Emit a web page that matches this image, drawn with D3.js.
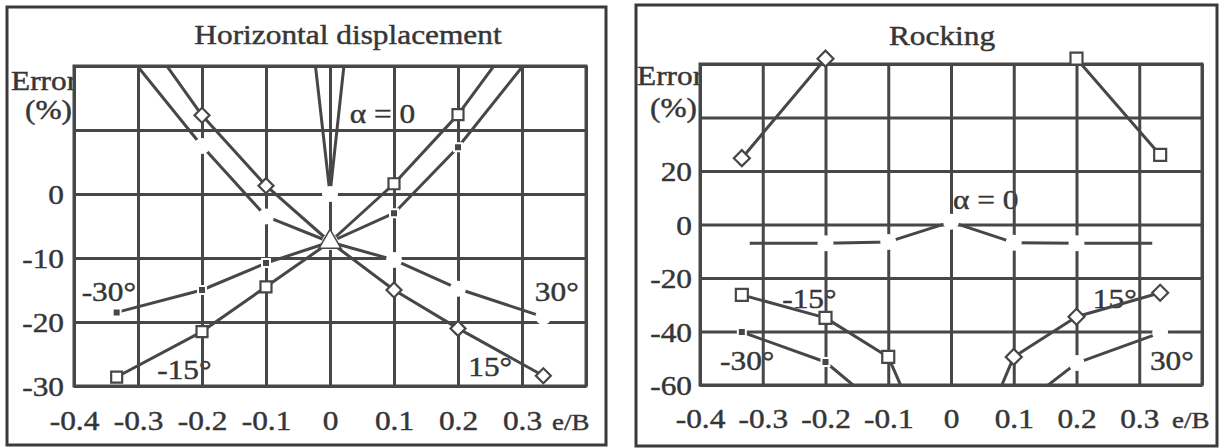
<!DOCTYPE html>
<html>
<head>
<meta charset="utf-8">
<script src="https://cdn.jsdelivr.net/npm/d3@7"></script>
<style>
  html, body { margin: 0; padding: 0; background: #fff; }
  svg { display: block; }
  text {
    font-family: "Liberation Serif", "Times New Roman", Times, serif;
    fill: #363636; stroke: #363636; stroke-width: 0.45px;
  }
</style>
</head>
<body>
<svg id="chart" width="1221" height="448"></svg>
<script>
// ---- data ----------------------------------------------------------------
// eccentricity ratios e/B where the errors were evaluated
const eB = [-1/3, -0.2, -0.1, 0, 0.1, 0.2, 1/3];
const xTicks = [-0.4, -0.3, -0.2, -0.1, 0, 0.1, 0.2, 0.3];

// Horizontal displacement error (%) for each load inclination alpha
const hdMinus30 = [-18.5, -15, -10.8, -7.5, -3, 7.3, 24];
const hdMinus15 = [-28.6, -21.5, -14.5, -7.5, 1.6, 12.4, 30.5];
const hdPlus15  = [31, 12.3, 1.3, -7.5, -15, -21, -28.4];
const hdPlus30  = [24, 7.5, -3.5, -7.5, -10.3, -14.8, -19.2];
const hdAlpha0X = [-0.1, 0, 0.1];
const hdAlpha0  = [88, 0, 92];
const hdCentre  = -7.5;
const hdYTicks  = [0, -10, -20, -30];

// Rocking error (%); null marks a break in the curve
const rkMinus30 = [-40.2, -51.4, -71, null, null, null, null];
const rkMinus15 = [-26.3, -34.9, -49.5, -103, null, 62, 26];
const rkPlus15  = [24.8, 62, null, -105, -49.5, -34.5, -25.5];
const rkPlus30  = [null, null, null, null, -70, -51.8, -40.5];
const rkAlpha0  = [-7, -7, -6.5, 1, -6.8, -7, -7];
const rkYTicks  = [20, 0, -20, -40, -60];

// ---- styling ---------------------------------------------------------------
const INK = "#474747";
const SX = 1.12;            // horizontal stretch of the serif lettering
const FS = 28;              // lettering size

const svg = d3.select("#chart");

function label(g, x, y, str, anchor = "start", size = FS) {
  return g.append("text")
    .attr("transform", `translate(${x},${y}) scale(${SX},1)`)
    .attr("text-anchor", anchor)
    .style("font-size", size + "px")
    .text(str);
}

const fmtX = d => d === 0 ? "0" : d.toFixed(1);
const pairs = (xs, ys) => xs.map((x, i) => ({ x, y: ys[i] }));

function drawPanel(cfg) {
  const g = svg.append("g");
  const [fx0, fy0, fx1, fy1] = cfg.frame;
  const [px0, py0, px1, py1] = cfg.plot;

  const x = d3.scaleLinear().domain([-0.4, 0.4]).range([px0, px1]);
  const y = d3.scaleLinear().domain(cfg.yDomain).range([py1, py0]);

  // outer frame
  g.append("rect")
    .attr("x", fx0).attr("y", fy0)
    .attr("width", fx1 - fx0).attr("height", fy1 - fy0)
    .attr("fill", "#fff").attr("stroke", "#3a3a3a").attr("stroke-width", 3);

  label(g, cfg.titleX, cfg.titleY, cfg.title, "middle", 28);
  label(g, cfg.errX, cfg.errY, "Error");
  label(g, cfg.pctX, cfg.pctY, "(%)", "end");

  // plot background hides the tail of "Error"
  g.append("rect")
    .attr("x", px0).attr("y", py0)
    .attr("width", px1 - px0).attr("height", py1 - py0)
    .attr("fill", "#fff");

  // curve labels
  cfg.labels.forEach(l => label(g, x(l.x), y(l.y), l.text));

  // grid
  const grid = g.append("g").attr("class", "grid");
  grid.append("g")
    .attr("transform", `translate(0,${py1})`)
    .call(d3.axisBottom(x).tickValues(xTicks.concat([0.4])).tickSize(-(py1 - py0)).tickSizeOuter(0).tickFormat(""));
  grid.append("g")
    .attr("transform", `translate(${px0},0)`)
    .call(d3.axisLeft(y).tickValues(d3.range(cfg.yDomain[0], cfg.yDomain[1] + 1e-9, cfg.yStep)).tickSize(-(px1 - px0)).tickSizeOuter(0).tickFormat(""));
  grid.selectAll(".domain").remove();
  grid.selectAll("line").attr("stroke", INK).attr("stroke-width", 3);
  grid.append("rect")
    .attr("x", px0).attr("y", py0)
    .attr("width", px1 - px0).attr("height", py1 - py0)
    .attr("fill", "none").attr("stroke", INK).attr("stroke-width", 3);

  // clip
  const clipId = "clip-" + cfg.id;
  g.append("clipPath").attr("id", clipId)
    .append("rect").attr("x", px0).attr("y", py0)
    .attr("width", px1 - px0).attr("height", py1 - py0);

  const line = d3.line()
    .defined(d => d.y != null)
    .x(d => x(d.x)).y(d => y(d.y));

  const lines = g.append("g").attr("clip-path", `url(#${clipId})`);
  cfg.series.forEach(s => {
    lines.append("path")
      .datum(s.points)
      .attr("d", line)
      .attr("fill", "none")
      .attr("stroke", INK)
      .attr("stroke-width", 3)
      .attr("stroke-linejoin", "round");
  });

  const visible = d => d.y != null && y(d.y) > py0 - 8 && y(d.y) < py1 + 8 &&
                       !(cfg.centre != null && d.x === 0);

  // white breaks along the curves
  const gaps = g.append("g").attr("clip-path", `url(#${clipId})`);
  cfg.series.filter(s => s.mark === "gap").forEach(s => {
    gaps.selectAll(null)
      .data(s.points.filter(d => d.y != null && y(d.y) > py0 - 8 && y(d.y) < py1 + 8))
      .join("circle")
      .attr("cx", d => x(d.x)).attr("cy", d => y(d.y))
      .attr("r", cfg.gapR)
      .attr("fill", "#fff");
  });

  // point markers
  const marks = g.append("g");
  cfg.series.forEach(s => {
    if (s.mark === "gap") return;
    const pts = s.points.filter(visible);
    const sel = marks.selectAll(null).data(pts).join("path");
    if (s.mark === "square") {
      sel.attr("d", d3.symbol(d3.symbolSquare, cfg.sq * cfg.sq))
        .attr("transform", d => `translate(${x(d.x)},${y(d.y)})`)
        .attr("fill", "#fff").attr("stroke", INK).attr("stroke-width", 2.2);
    } else if (s.mark === "diamond") {
      sel.attr("d", d3.symbol(d3.symbolSquare, 2 * cfg.dia * cfg.dia))
        .attr("transform", d => `translate(${x(d.x)},${y(d.y)}) rotate(45)`)
        .attr("fill", "#fff").attr("stroke", INK).attr("stroke-width", 2.2);
    } else if (s.mark === "filled") {
      sel.attr("d", d3.symbol(d3.symbolSquare, 64))
        .attr("transform", d => `translate(${x(d.x)},${y(d.y)})`)
        .attr("fill", INK).attr("stroke", "#fff").attr("stroke-width", 2);
    }
  });

  // common point at e/B = 0
  if (cfg.centre != null) {
    const side = 22;
    g.append("path")
      .attr("d", d3.symbol(d3.symbolTriangle, Math.sqrt(3) / 4 * side * side))
      .attr("transform", `translate(${x(0)},${y(cfg.centre)})`)
      .attr("fill", "#fff").attr("stroke", INK).attr("stroke-width", 1.5);
  }

  // tick labels
  const xa = g.append("g")
    .attr("transform", `translate(0,${py1})`)
    .call(d3.axisBottom(x).tickValues(xTicks).tickSize(0).tickFormat(fmtX));
  const ya = g.append("g")
    .attr("transform", `translate(${px0},0)`)
    .call(d3.axisLeft(y).tickValues(cfg.yTicks).tickSize(0).tickFormat(d => String(d)));
  [xa, ya].forEach(a => {
    a.attr("font-size", null).attr("font-family", null);
    a.select(".domain").remove();
    a.selectAll("text").style("font-size", FS + "px").attr("fill", null);
  });
  xa.selectAll("text")
    .attr("y", null).attr("dy", null)
    .attr("transform", `translate(0,${cfg.xLabelDy}) scale(${SX},1)`);
  ya.selectAll("text")
    .attr("x", null).attr("dy", "0.34em")
    .attr("transform", `translate(${cfg.yLabelDx},0) scale(${SX},1)`);

  label(g, cfg.eBX, py1 + cfg.xLabelDy, "e/B", "start", 24);
}

drawPanel({
  id: "hd",
  frame: [7, 7, 606, 445],
  plot: [74, 66, 586, 386],
  yDomain: [-30, 20], yStep: 10, yTicks: hdYTicks,
  title: "Horizontal displacement", titleX: 348, titleY: 44,
  errX: 11, errY: 90, pctX: 72, pctY: 119,
  xLabelDy: 44, yLabelDx: -10, eBX: 552,
  sq: 11, dia: 7.5, gapR: 8,
  centre: hdCentre,
  series: [
    { points: pairs(eB, hdMinus15), mark: "square" },
    { points: pairs(eB, hdPlus15),  mark: "diamond" },
    { points: pairs(eB, hdMinus30), mark: "filled" },
    { points: pairs(eB, hdPlus30),  mark: "gap" },
    { points: pairs(hdAlpha0X, hdAlpha0), mark: "gap" }
  ],
  labels: [
    { text: "-30°", x: -0.388, y: -16.7 },
    { text: "-15°", x: -0.270, y: -28.9 },
    { text: "30°",  x: 0.320,  y: -16.7 },
    { text: "15°",  x: 0.216,  y: -28.4 },
    { text: "α = 0", x: 0.031, y: 11.1 }
  ]
});

drawPanel({
  id: "rk",
  frame: [636, 5, 1217, 446],
  plot: [700, 64, 1202, 385],
  yDomain: [-60, 60], yStep: 20, yTicks: rkYTicks,
  title: "Rocking", titleX: 942, titleY: 45,
  errX: 637, errY: 85, pctX: 697, pctY: 117,
  xLabelDy: 43, yLabelDx: -8, eBX: 1172,
  sq: 12, dia: 8, gapR: 8,
  centre: null,
  series: [
    { points: pairs(eB, rkMinus15), mark: "square" },
    { points: pairs(eB, rkPlus15),  mark: "diamond" },
    { points: pairs(eB, rkMinus30), mark: "filled" },
    { points: pairs(eB, rkPlus30),  mark: "gap" },
    { points: pairs(eB, rkAlpha0),  mark: "gap" }
  ],
  labels: [
    { text: "-15°", x: -0.269, y: -31.2 },
    { text: "-30°", x: -0.368, y: -54.4 },
    { text: "15°",  x: 0.226,  y: -31.2 },
    { text: "30°",  x: 0.317,  y: -54.4 },
    { text: "α = 0", x: 0.003, y: 5.8 }
  ]
});
</script>
</body>
</html>
